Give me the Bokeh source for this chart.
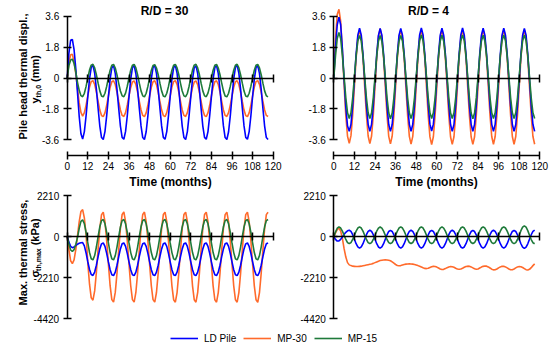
import math
from bokeh.plotting import figure
from bokeh.models import (LinearAxis, FixedTicker, NumeralTickFormatter, Range1d,
                          Label, Legend, LegendItem, CustomJSTickFormatter)
from bokeh.layouts import column, row
from bokeh.embed import file_html
from bokeh.resources import INLINE

# ---------------- data ----------------
months = list(range(118))
time_ticks = [0, 12, 24, 36, 48, 60, 72, 84, 96, 108, 120]
disp_ticks = [-3.6, -1.8, 0, 1.8, 3.6]
stress_ticks = [-4420, -2210, 0, 2210]
series_names = ["LD Pile", "MP-30", "MP-15"]
panel_titles = ["R/D = 30", "R/D = 4"]

# Pile head thermal displacement (mm), R/D = 30
disp30_ld = [
    0.00, 1.45, 2.20, 2.25, 1.65, 0.55, -0.85, -2.25, -3.25, -3.56, -3.12, -2.20,
    -1.08, -0.05, 0.62, 0.74, 0.28, -0.64, -1.76, -2.80, -3.47, -3.58, -3.12, -2.19,
    -1.09, -0.07, 0.60, 0.72, 0.27, -0.66, -1.77, -2.80, -3.46, -3.57, -3.11, -2.20,
    -1.10, -0.06, 0.61, 0.73, 0.26, -0.65, -1.76, -2.79, -3.47, -3.58, -3.13, -2.21,
    -1.09, -0.05, 0.62, 0.73, 0.27, -0.65, -1.75, -2.79, -3.46, -3.57, -3.12, -2.20,
    -1.08, -0.06, 0.61, 0.72, 0.28, -0.64, -1.76, -2.80, -3.47, -3.58, -3.12, -2.19,
    -1.09, -0.07, 0.60, 0.72, 0.27, -0.65, -1.77, -2.80, -3.46, -3.57, -3.12, -2.20,
    -1.10, -0.06, 0.61, 0.73, 0.27, -0.66, -1.76, -2.79, -3.47, -3.58, -3.13, -2.21,
    -1.09, -0.05, 0.62, 0.74, 0.28, -0.64, -1.75, -2.79, -3.46, -3.57, -3.12, -2.20,
    -1.08, -0.06, 0.61, 0.73, 0.27, -0.65, -1.76, -2.80, -3.47, -3.58]
disp30_mp30 = [
    0.00, 0.90, 1.35, 1.38, 0.95, 0.25, -0.60, -1.45, -2.00, -2.22, -2.02, -1.58,
    -1.04, -0.53, -0.21, -0.15, -0.37, -0.82, -1.36, -1.87, -2.19, -2.25, -2.03, -1.58,
    -1.05, -0.54, -0.22, -0.16, -0.38, -0.83, -1.37, -1.86, -2.18, -2.24, -2.02, -1.57,
    -1.04, -0.55, -0.23, -0.17, -0.38, -0.82, -1.36, -1.86, -2.18, -2.25, -2.03, -1.59,
    -1.05, -0.54, -0.22, -0.16, -0.39, -0.83, -1.37, -1.87, -2.19, -2.25, -2.02, -1.58,
    -1.04, -0.53, -0.21, -0.15, -0.37, -0.82, -1.36, -1.86, -2.18, -2.24, -2.02, -1.58,
    -1.05, -0.55, -0.23, -0.17, -0.39, -0.83, -1.37, -1.87, -2.19, -2.25, -2.03, -1.59,
    -1.04, -0.54, -0.22, -0.16, -0.38, -0.82, -1.36, -1.86, -2.18, -2.24, -2.02, -1.58,
    -1.05, -0.54, -0.22, -0.16, -0.38, -0.83, -1.37, -1.87, -2.19, -2.25, -2.03, -1.58,
    -1.04, -0.53, -0.21, -0.15, -0.37, -0.82, -1.36, -1.86, -2.18, -2.24]
disp30_mp15 = [
    0.00, 0.72, 1.05, 1.10, 0.85, 0.35, -0.25, -0.72, -1.03, -1.09, -0.89, -0.49,
    0.00, 0.46, 0.75, 0.80, 0.59, 0.19, -0.30, -0.75, -1.05, -1.10, -0.89, -0.49,
    0.01, 0.45, 0.74, 0.79, 0.58, 0.18, -0.31, -0.76, -1.04, -1.09, -0.88, -0.48,
    0.00, 0.45, 0.74, 0.79, 0.59, 0.19, -0.30, -0.75, -1.04, -1.10, -0.89, -0.49,
    -0.01, 0.44, 0.73, 0.78, 0.58, 0.19, -0.30, -0.75, -1.05, -1.10, -0.89, -0.49,
    0.00, 0.45, 0.74, 0.79, 0.59, 0.19, -0.31, -0.76, -1.04, -1.09, -0.89, -0.48,
    0.00, 0.46, 0.75, 0.80, 0.59, 0.20, -0.30, -0.75, -1.04, -1.09, -0.88, -0.49,
    0.01, 0.45, 0.74, 0.79, 0.58, 0.19, -0.30, -0.75, -1.05, -1.10, -0.89, -0.49,
    0.00, 0.45, 0.74, 0.80, 0.59, 0.19, -0.30, -0.76, -1.05, -1.10, -0.89, -0.49,
    0.00, 0.45, 0.74, 0.79, 0.59, 0.19, -0.30, -0.75, -1.04, -1.09]

# Pile head thermal displacement (mm), R/D = 4
disp4_ld = [
    0.00, 1.80, 3.10, 3.55, 3.10, 1.70, -0.10, -1.70, -2.80, -3.10, -2.70, -1.60,
    -0.10, 1.40, 2.50, 2.90, 2.50, 1.40, -0.10, -1.60, -2.70, -3.10, -2.70, -1.60,
    -0.11, 1.39, 2.48, 2.88, 2.49, 1.39, -0.11, -1.61, -2.71, -3.11, -2.71, -1.61,
    -0.10, 1.40, 2.50, 2.89, 2.50, 1.40, -0.10, -1.60, -2.70, -3.10, -2.70, -1.60,
    -0.10, 1.40, 2.51, 2.91, 2.51, 1.41, -0.09, -1.59, -2.69, -3.09, -2.69, -1.59,
    -0.10, 1.40, 2.50, 2.90, 2.50, 1.40, -0.10, -1.61, -2.71, -3.11, -2.71, -1.60,
    -0.09, 1.41, 2.51, 2.91, 2.50, 1.40, -0.10, -1.60, -2.70, -3.10, -2.70, -1.60,
    -0.10, 1.40, 2.50, 2.90, 2.50, 1.40, -0.10, -1.60, -2.70, -3.10, -2.70, -1.60,
    -0.10, 1.40, 2.50, 2.90, 2.50, 1.40, -0.11, -1.61, -2.71, -3.11, -2.71, -1.61,
    -0.11, 1.39, 2.49, 2.89, 2.49, 1.39, -0.11, -1.61, -2.71, -3.11]
disp4_mp30 = [
    0.10, 2.30, 3.70, 4.00, 3.30, 1.60, -0.40, -2.20, -3.40, -3.80, -3.36, -2.15,
    -0.50, 1.15, 2.36, 2.80, 2.36, 1.15, -0.50, -2.16, -3.38, -3.82, -3.38, -2.16,
    -0.52, 1.18, 2.42, 2.88, 2.40, 1.16, -0.51, -2.17, -3.40, -3.84, -3.39, -2.17,
    -0.51, 1.14, 2.35, 2.79, 2.35, 1.14, -0.52, -2.18, -3.40, -3.85, -3.40, -2.17,
    -0.52, 1.13, 2.34, 2.78, 2.34, 1.13, -0.53, -2.20, -3.43, -3.88, -3.42, -2.18,
    -0.52, 1.14, 2.35, 2.79, 2.35, 1.14, -0.52, -2.19, -3.42, -3.87, -3.42, -2.18,
    -0.52, 1.14, 2.35, 2.79, 2.35, 1.14, -0.52, -2.19, -3.42, -3.87, -3.42, -2.18,
    -0.51, 1.15, 2.36, 2.80, 2.36, 1.15, -0.51, -2.18, -3.41, -3.86, -3.41, -2.17,
    -0.51, 1.15, 2.36, 2.80, 2.36, 1.15, -0.51, -2.18, -3.41, -3.86, -3.41, -2.17,
    -0.51, 1.15, 2.36, 2.80, 2.36, 1.15, -0.51, -2.18, -3.41, -3.86]
disp4_mp15 = [
    0.00, 1.30, 2.30, 2.65, 2.30, 1.30, 0.07, -1.15, -2.03, -2.36, -2.03, -1.15,
    0.07, 1.28, 2.15, 2.48, 2.15, 1.28, 0.06, -1.15, -2.03, -2.36, -2.03, -1.15,
    0.06, 1.27, 2.14, 2.47, 2.14, 1.27, 0.06, -1.15, -2.03, -2.37, -2.04, -1.16,
    0.06, 1.27, 2.14, 2.47, 2.15, 1.28, 0.07, -1.15, -2.03, -2.36, -2.03, -1.15,
    0.07, 1.29, 2.17, 2.50, 2.17, 1.29, 0.07, -1.15, -2.03, -2.36, -2.03, -1.15,
    0.07, 1.28, 2.16, 2.49, 2.16, 1.28, 0.07, -1.15, -2.03, -2.36, -2.03, -1.15,
    0.07, 1.29, 2.17, 2.50, 2.17, 1.29, 0.07, -1.15, -2.04, -2.37, -2.04, -1.16,
    0.06, 1.28, 2.16, 2.49, 2.16, 1.28, 0.06, -1.15, -2.03, -2.36, -2.03, -1.15,
    0.07, 1.29, 2.17, 2.50, 2.17, 1.29, 0.07, -1.15, -2.03, -2.36, -2.03, -1.15,
    0.07, 1.29, 2.17, 2.50, 2.17, 1.29, 0.07, -1.15, -2.03, -2.36]

# Max. thermal stress (kPa), R/D = 30
stress30_ld = [
    0, -300, -520, -600, -560, -480, -410, -360, -330, -320, -500, -880,
    -1350, -1770, -2040, -2090, -1905, -1535, -1080, -660, -390, -340, -528, -900,
    -1360, -1780, -2050, -2100, -1912, -1540, -1082, -661, -389, -341, -528, -901,
    -1358, -1779, -2051, -2098, -1910, -1538, -1080, -659, -388, -340, -527, -900,
    -1359, -1781, -2052, -2100, -1913, -1540, -1081, -660, -389, -341, -528, -901,
    -1360, -1780, -2051, -2099, -1912, -1539, -1081, -660, -389, -341, -529, -902,
    -1359, -1779, -2050, -2098, -1911, -1538, -1080, -660, -388, -340, -528, -900,
    -1359, -1780, -2051, -2099, -1912, -1539, -1081, -660, -389, -341, -528, -901,
    -1360, -1781, -2052, -2100, -1913, -1540, -1082, -661, -390, -342, -529, -902,
    -1359, -1780, -2051, -2099, -1912, -1539, -1081, -660, -389, -341]
stress30_mp30 = [
    0, -700, -1300, -1450, -1250, -700, 50, 800, 1350, 1450, 1000, 100,
    -1420, -2560, -3290, -3420, -2920, -1920, -690, 440, 1180, 1310, 800, -220,
    -1480, -2640, -3390, -3520, -3000, -1975, -716, 442, 1190, 1322, 805, -222,
    -1482, -2642, -3390, -3522, -3005, -1978, -718, 441, 1188, 1320, 803, -224,
    -1483, -2643, -3391, -3524, -3006, -1979, -719, 440, 1186, 1318, 802, -225,
    -1484, -2645, -3393, -3526, -3008, -1980, -720, 439, 1185, 1317, 801, -226,
    -1485, -2646, -3394, -3527, -3009, -1981, -721, 438, 1184, 1316, 800, -227,
    -1486, -2647, -3395, -3528, -3010, -1982, -722, 437, 1183, 1315, 799, -228,
    -1487, -2648, -3396, -3529, -3011, -1983, -723, 436, 1182, 1314, 798, -229,
    -1487, -2648, -3396, -3530, -3012, -1984, -724, 435, 1181, 1313]
stress30_mp15 = [
    0, -400, -720, -800, -700, -420, -50, 450, 820, 900, 688, 227,
    -335, -855, -1190, -1250, -1020, -560, 5, 525, 860, 920, 688, 227,
    -339, -859, -1194, -1254, -1022, -561, 4, 524, 859, 919, 687, 226,
    -340, -860, -1195, -1255, -1023, -562, 5, 525, 860, 920, 688, 227,
    -339, -859, -1194, -1254, -1022, -561, 5, 525, 860, 920, 688, 227,
    -340, -860, -1195, -1255, -1023, -562, 4, 524, 859, 919, 687, 226,
    -339, -859, -1194, -1254, -1022, -561, 5, 525, 860, 920, 688, 227,
    -339, -859, -1194, -1254, -1022, -561, 5, 525, 860, 920, 688, 227,
    -340, -860, -1195, -1255, -1023, -562, 4, 524, 859, 919, 687, 226,
    -339, -859, -1194, -1254, -1022, -561, 5, 525, 860, 920]

# Max. thermal stress (kPa), R/D = 4
stress4_ld = [
    0, -150, -240, -230, -150, -20, 120, 230, 310, 340, 276, 100,
    -140, -380, -556, -620, -556, -380, -140, 100, 276, 340, 276, 100,
    -142, -382, -558, -622, -557, -381, -141, 99, 275, 338, 275, 99,
    -140, -380, -556, -620, -556, -380, -140, 100, 276, 340, 276, 100,
    -141, -381, -557, -621, -557, -381, -141, 99, 275, 339, 275, 99,
    -140, -380, -556, -620, -556, -380, -140, 100, 276, 340, 276, 100,
    -142, -382, -558, -622, -558, -382, -142, 98, 274, 338, 274, 98,
    -140, -380, -556, -620, -556, -380, -140, 100, 276, 340, 276, 100,
    -141, -381, -557, -621, -557, -381, -141, 99, 275, 339, 275, 99,
    -140, -385, -565, -632, -566, -388, -142, 100, 280, 345]
stress4_mp30 = [
    0, 200, 380, 450, 300, -100, -650, -1100, -1400, -1520, -1560, -1590,
    -1600, -1610, -1610, -1600, -1590, -1570, -1550, -1530, -1510, -1490, -1470, -1440,
    -1400, -1360, -1320, -1290, -1270, -1255, -1250, -1255, -1270, -1300, -1360, -1430,
    -1500, -1550, -1570, -1560, -1530, -1500, -1480, -1470, -1465, -1470, -1480, -1500,
    -1530, -1560, -1600, -1640, -1680, -1710, -1720, -1700, -1660, -1620, -1600, -1610,
    -1640, -1690, -1740, -1770, -1760, -1720, -1670, -1630, -1610, -1620, -1650, -1700,
    -1740, -1760, -1740, -1700, -1650, -1610, -1590, -1600, -1630, -1680, -1730, -1760,
    -1740, -1690, -1640, -1600, -1580, -1590, -1630, -1690, -1750, -1790, -1780, -1740,
    -1680, -1630, -1600, -1600, -1630, -1680, -1740, -1780, -1780, -1740, -1680, -1630,
    -1610, -1620, -1660, -1720, -1780, -1800, -1760, -1670, -1560, -1470]
stress4_mp15 = [
    0, 250, 450, 520, 460, 295, 70, -155, -320, -380, -320, -155,
    70, 295, 460, 520, 460, 295, 70, -155, -320, -380, -320, -155,
    70, 293, 458, 518, 458, 293, 69, -156, -321, -381, -321, -156,
    71, 296, 461, 521, 461, 296, 71, -154, -319, -379, -319, -154,
    70, 295, 460, 520, 460, 295, 70, -155, -320, -380, -320, -155,
    70, 294, 459, 519, 459, 294, 69, -156, -321, -381, -321, -156,
    71, 296, 461, 522, 461, 296, 71, -154, -319, -379, -319, -154,
    70, 295, 460, 520, 460, 295, 70, -155, -320, -380, -320, -155,
    70, 296, 462, 523, 462, 296, 70, -156, -322, -382, -322, -156,
    70, 320, 510, 580, 510, 320, 70, -160, -330, -385]

# ---------------- style / geometry (page pixels) ----------------
FONT = "Liberation Sans"
COL_LD = "#0000FF"
COL_30 = "#FF6A2B"
COL_15 = "#1E7A3A"
LW = 1.6
PXM = 206 / 120            # pixels per month

TOP_H, BOT_H, LEG_H = 190, 138, 19
LEFT_W, RIGHT_W = 300, 250
X0_LEFT, X0_RIGHT = 66.7, 333.3      # page x of t = 0
D_PPU, D_ZERO = 17.1667, 77.5         # px per mm, page y of 0 mm
S_PPU, S_ZERO = 0.018597, 236.1       # px per kPa, page y of 0 kPa
TIME_AXIS_Y = 155.0                   # page y of the time axis
ROW2_Y = TOP_H


def make_panel(w, h, page_x, page_y, x0, zero_y, ppu, yticks, yfmt, with_time_axis):
    xr = Range1d((page_x - x0) / PXM, (page_x + w - x0) / PXM)
    yr = Range1d((zero_y - (page_y + h)) / ppu, (zero_y - page_y) / ppu)
    p = figure(width=w, height=h, x_range=xr, y_range=yr,
               x_axis_type=None, y_axis_type=None, output_backend="svg",
               toolbar_location=None, min_border=0)
    p.outline_line_color = None
    p.background_fill_color = "white"
    p.border_fill_color = "white"
    common = dict(major_tick_in=4, major_tick_out=4, minor_tick_line_color=None,
                  axis_line_width=1.5, major_tick_line_width=1.5,
                  major_label_text_font=FONT, major_label_text_font_size="10px",
                  major_label_text_color="black")
    yax = LinearAxis(fixed_location=0, ticker=FixedTicker(ticks=yticks),
                     formatter=NumeralTickFormatter(format=yfmt),
                     bounds=(yticks[0], yticks[-1]), major_label_standoff=4, **common)
    p.add_layout(yax, "left")
    zax = LinearAxis(fixed_location=0, ticker=FixedTicker(ticks=time_ticks),
                     formatter=CustomJSTickFormatter(code="return ''"),
                     bounds=(time_ticks[0], time_ticks[-1]), **common)
    p.add_layout(zax, "below")
    if with_time_axis:
        xax = LinearAxis(fixed_location=(zero_y - TIME_AXIS_Y) / ppu,
                         ticker=FixedTicker(ticks=time_ticks),
                         bounds=(time_ticks[0], time_ticks[-1]), major_label_standoff=2,
                         axis_label="Time (months)", axis_label_standoff=2,
                         axis_label_text_font=FONT, axis_label_text_font_size="12px",
                         axis_label_text_font_style="bold", axis_label_text_color="black",
                         **common)
        p.add_layout(xax, "below")
    geo = (x0, zero_y, ppu)
    return p, geo


def draw_series(p, ld, mp30, mp15):
    p.line(months, mp30, line_color=COL_30, line_width=LW)
    p.line(months, ld, line_color=COL_LD, line_width=LW)
    p.line(months, mp15, line_color=COL_15, line_width=LW)


def add_text(p, geo, px, py, text, size, bold=True, angle=0.0, align="center", baseline="middle"):
    x0, zero_y, ppu = geo
    p.add_layout(Label(x=(px - x0) / PXM, y=(zero_y - py) / ppu, text=text, angle=angle,
                       text_align=align, text_baseline=baseline, text_font=FONT,
                       text_font_size=f"{size}px",
                       text_font_style="bold" if bold else "normal", text_color="black"))


def add_sub_label(p, geo, cx, py_start, main, w_main, sub, w_sub, tail):
    """Rotated 'main' + subscript 'sub' + 'tail', read bottom to top, centred at page x cx."""
    a = math.pi / 2
    add_text(p, geo, cx, py_start, main, 11, angle=a, align="left")
    add_text(p, geo, cx + 3.5, py_start - w_main, sub, 7, angle=a, align="left")
    add_text(p, geo, cx, py_start - w_main - w_sub - 3, tail, 11, angle=a, align="left")


p1, g1 = make_panel(LEFT_W, TOP_H, 0, 0, X0_LEFT, D_ZERO, D_PPU, disp_ticks, "0.[0]", True)
p2, g2 = make_panel(RIGHT_W, TOP_H, LEFT_W, 0, X0_RIGHT, D_ZERO, D_PPU, disp_ticks, "0.[0]", True)
p3, g3 = make_panel(LEFT_W, BOT_H, 0, ROW2_Y, X0_LEFT, S_ZERO, S_PPU, stress_ticks, "0", False)
p4, g4 = make_panel(RIGHT_W, BOT_H, LEFT_W, ROW2_Y, X0_RIGHT, S_ZERO, S_PPU, stress_ticks, "0", False)

draw_series(p1, disp30_ld, disp30_mp30, disp30_mp15)
draw_series(p2, disp4_ld, disp4_mp30, disp4_mp15)
draw_series(p3, stress30_ld, stress30_mp30, stress30_mp15)
draw_series(p4, stress4_ld, stress4_mp30, stress4_mp15)

add_text(p1, g1, 164, 10, panel_titles[0], 12)
add_text(p2, g2, 428, 10, panel_titles[1], 12)

add_text(p1, g1, 22, 76, "Pile head thermal displ.,", 11, angle=math.pi / 2)
add_sub_label(p1, g1, 34, 103, "y", 6.1, "th,0", 12.4, "(mm)")
add_text(p3, g3, 22, 252, "Max. thermal stress,", 11, angle=math.pi / 2)
add_sub_label(p3, g3, 34, 277, "σ", 6.6, "th,max", 22.6, "(kPa)")

# legend strip
pl = figure(width=LEFT_W + RIGHT_W, height=LEG_H, x_range=Range1d(0, 1), y_range=Range1d(0, 1),
            x_axis_type=None, y_axis_type=None, output_backend="svg",
            toolbar_location=None, min_border=0)
pl.outline_line_color = None
nan = float("nan")
r_ld = pl.line(x=[nan], y=[nan], line_color=COL_LD, line_width=LW)
r_30 = pl.line(x=[nan], y=[nan], line_color=COL_30, line_width=LW)
r_15 = pl.line(x=[nan], y=[nan], line_color=COL_15, line_width=LW)
legend = Legend(items=[LegendItem(label=series_names[0], renderers=[r_ld]),
                       LegendItem(label=series_names[1], renderers=[r_30]),
                       LegendItem(label=series_names[2], renderers=[r_15])],
                orientation="horizontal", location=(170, 3), glyph_width=28, glyph_height=12,
                label_height=12, label_standoff=6, spacing=7, padding=0, margin=0,
                border_line_color=None, background_fill_alpha=0,
                label_text_font=FONT, label_text_font_size="10px", label_text_color="black")
pl.add_layout(legend)

layout = column(row(p1, p2), row(p3, p4), pl)

with open("out.html", "w") as f:
    f.write(file_html(layout, INLINE))
